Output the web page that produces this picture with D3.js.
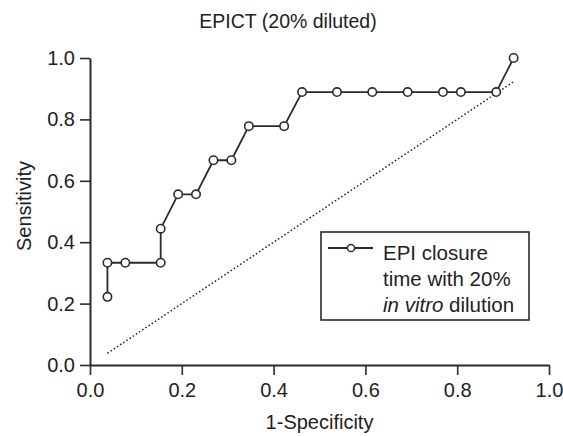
<!DOCTYPE html>
<html>
<head>
<meta charset="utf-8">
<script src="https://cdn.jsdelivr.net/npm/d3@7"></script>
<style>
  body { margin: 0; background: #fff; }
  svg { display: block; }
  svg text { font-family: "Liberation Sans", Arial, sans-serif; fill: #222; }
</style>
</head>
<body>
<div id="chart"></div>
<script>
// ROC points (1-specificity, sensitivity)
const specValues = [0.038, 0.038, 0.077, 0.154, 0.154, 0.192, 0.231, 0.269, 0.308, 0.346, 0.423, 0.462, 0.538, 0.615, 0.692, 0.769, 0.808, 0.885, 0.923];
const sensValues = [0.222, 0.333, 0.333, 0.333, 0.444, 0.556, 0.556, 0.667, 0.667, 0.778, 0.778, 0.889, 0.889, 0.889, 0.889, 0.889, 0.889, 0.889, 1.0];
// reference (chance) line ends
const refLine = [0.038, 0.925];
const tickValues = [0, 0.2, 0.4, 0.6, 0.8, 1.0];
const legendLines = ["EPI closure", "time with 20%", "in vitro dilution"];

const width = 563, height = 436;
const margin = { top: 58, right: 14, bottom: 71, left: 90 };
const innerWidth = width - margin.left - margin.right;
const innerHeight = height - margin.top - margin.bottom;
const ink = "#2b2b2b";
const fontSize = "20px";

const svg = d3.select("#chart").append("svg")
  .attr("width", width)
  .attr("height", height);

const g = svg.append("g")
  .attr("transform", `translate(${margin.left},${margin.top})`);

const x = d3.scaleLinear().domain([0, 1]).range([0, innerWidth]);
const y = d3.scaleLinear().domain([0, 1]).range([innerHeight, 0]);

// axes
const xAxis = g.append("g")
  .attr("transform", `translate(0,${innerHeight})`)
  .call(d3.axisBottom(x).tickValues(tickValues).tickFormat(d3.format(".1f")).tickSize(10).tickPadding(8).tickSizeOuter(0));
const yAxis = g.append("g")
  .call(d3.axisLeft(y).tickValues(tickValues).tickFormat(d3.format(".1f")).tickSize(10).tickPadding(5).tickSizeOuter(0));

[xAxis, yAxis].forEach(ax => {
  ax.attr("font-family", null).attr("font-size", null);
  ax.select(".domain").attr("stroke", ink).attr("stroke-width", 2);
  ax.selectAll(".tick line").attr("stroke", ink).attr("stroke-width", 1.6);
  ax.selectAll(".tick text").style("font-size", fontSize).attr("fill", "#222");
});

// chance line
g.append("line")
  .attr("x1", x(refLine[0])).attr("y1", y(refLine[0]))
  .attr("x2", x(refLine[1])).attr("y2", y(refLine[1]))
  .attr("stroke", ink)
  .attr("stroke-width", 1.5)
  .attr("stroke-dasharray", "1.6,2.2");

const pts = specValues.map((s, i) => [s, sensValues[i]]);

g.append("path")
  .datum(pts)
  .attr("fill", "none")
  .attr("stroke", ink)
  .attr("stroke-width", 1.8)
  .attr("d", d3.line().x(d => x(d[0])).y(d => y(d[1])));

g.selectAll("circle.pt")
  .data(pts)
  .enter().append("circle")
  .attr("class", "pt")
  .attr("cx", d => x(d[0]))
  .attr("cy", d => y(d[1]))
  .attr("r", 4.2)
  .attr("fill", "#fff")
  .attr("stroke", ink)
  .attr("stroke-width", 1.6);

// title and axis labels
svg.append("text")
  .attr("x", 288)
  .attr("y", 28)
  .attr("text-anchor", "middle")
  .style("font-size", "19.5px")
  .text("EPICT (20% diluted)");

svg.append("text")
  .attr("x", margin.left + innerWidth / 2)
  .attr("y", 429)
  .attr("text-anchor", "middle")
  .style("font-size", fontSize)
  .text("1-Specificity");

svg.append("text")
  .attr("transform", "translate(31,206) rotate(-90)")
  .attr("text-anchor", "middle")
  .style("font-size", fontSize)
  .text("Sensitivity");

// legend
const legend = svg.append("g").attr("transform", "translate(321,232)");
legend.append("rect")
  .attr("width", 208).attr("height", 88)
  .attr("fill", "#fff").attr("stroke", ink).attr("stroke-width", 1.6);
legend.append("line")
  .attr("x1", 7).attr("x2", 52).attr("y1", 16).attr("y2", 16)
  .attr("stroke", ink).attr("stroke-width", 1.8);
legend.append("circle")
  .attr("cx", 30).attr("cy", 16).attr("r", 3.6)
  .attr("fill", "#fff").attr("stroke", ink).attr("stroke-width", 1.5);

legendLines.forEach((line, i) => {
  const t = legend.append("text")
    .attr("x", 62)
    .attr("y", 28 + i * 26)
    .style("font-size", "20.5px");
  if (line.startsWith("in vitro")) {
    t.append("tspan").style("font-style", "italic").text("in vitro");
    t.append("tspan").text(line.slice(8));
  } else {
    t.text(line);
  }
});
</script>
</body>
</html>
